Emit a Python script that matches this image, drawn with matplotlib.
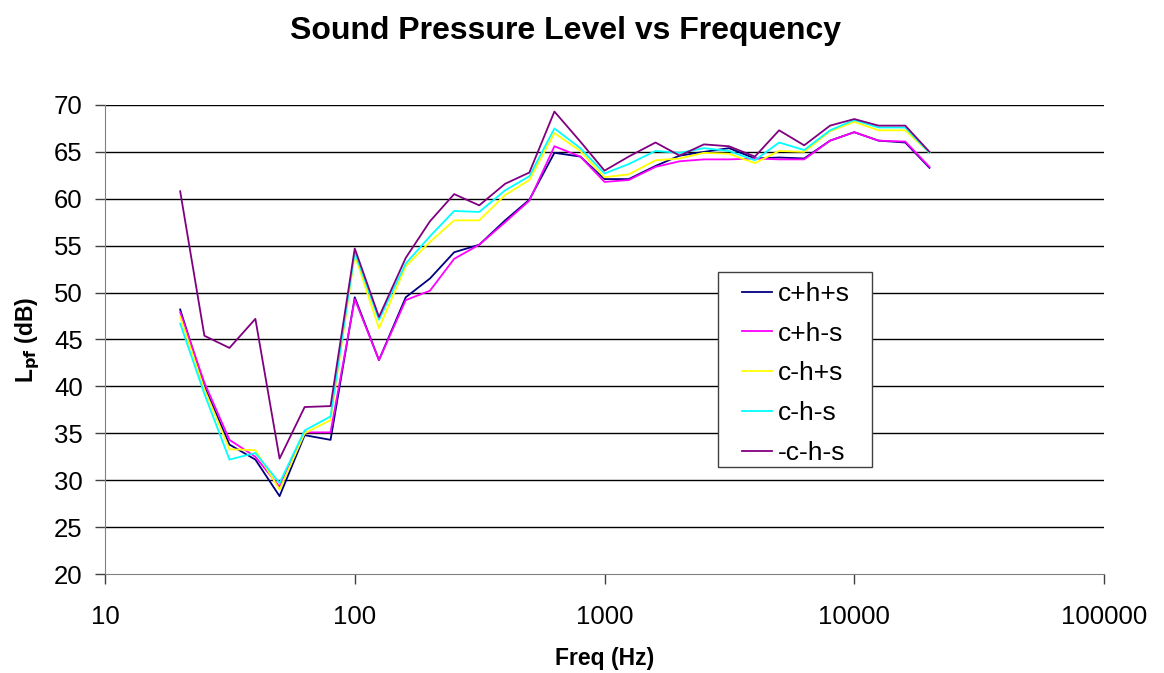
import matplotlib
matplotlib.use('Agg')
import matplotlib.pyplot as plt
from matplotlib.patches import Rectangle
from matplotlib.ticker import FixedLocator, FixedFormatter, NullLocator

plt.rcParams['font.family'] = ['Liberation Sans', 'DejaVu Sans']

# bandas de terço de oitava (Hz)
freq = [20, 25, 31.5, 40, 50, 63, 80, 100, 125, 160, 200, 250, 315, 400, 500,
        630, 800, 1000, 1250, 1600, 2000, 2500, 3150, 4000, 5000, 6300, 8000,
        10000, 12500, 16000, 20000]

c_mais_h_mais_s = [48.2, 40.0, 33.8, 32.2, 28.3, 34.8, 34.3, 49.5, 42.8, 49.5, 51.5,
                   54.3, 55.1, 57.7, 59.9, 64.9, 64.5, 62.1, 62.1, 63.5, 64.6, 65.0,
                   65.4, 64.3, 64.4, 64.3, 66.2, 67.1, 66.2, 66.0, 63.3]
c_mais_h_menos_s = [47.9, 40.4, 34.3, 32.5, 29.3, 35.1, 35.1, 49.3, 42.8, 49.2, 50.2,
                    53.6, 55.1, 57.5, 59.8, 65.6, 64.5, 61.8, 62.0, 63.4, 64.0, 64.2,
                    64.2, 64.3, 64.2, 64.2, 66.2, 67.1, 66.2, 66.1, 63.4]
c_menos_h_mais_s = [47.4, 39.7, 33.3, 33.2, 29.0, 35.0, 36.4, 54.0, 46.2, 52.8, 55.4,
                    57.7, 57.7, 60.4, 62.0, 67.0, 65.1, 62.3, 62.6, 64.1, 64.3, 64.9,
                    64.8, 63.8, 65.1, 65.0, 67.2, 68.2, 67.3, 67.3, 64.9]
c_menos_h_menos_s = [46.7, 39.2, 32.2, 32.9, 29.7, 35.3, 36.8, 54.3, 47.1, 53.1, 56.0,
                     58.7, 58.6, 60.9, 62.4, 67.5, 65.4, 62.7, 63.7, 65.1, 64.9, 65.4,
                     65.1, 64.1, 66.0, 65.2, 67.3, 68.4, 67.6, 67.6, 64.9]
menos_c_h_s = [60.8, 45.4, 44.1, 47.2, 32.3, 37.8, 37.9, 54.7, 47.4, 53.7, 57.6,
               60.5, 59.3, 61.6, 62.8, 69.3, 66.1, 63.0, 64.5, 66.0, 64.6, 65.8,
               65.6, 64.5, 67.3, 65.7, 67.8, 68.5, 67.8, 67.8, 65.0]

series = [
    ('c+h+s', c_mais_h_mais_s, '#000080'),
    ('c+h-s', c_mais_h_menos_s, '#FF00FF'),
    ('c-h+s', c_menos_h_mais_s, '#FFFF00'),
    ('c-h-s', c_menos_h_menos_s, '#00FFFF'),
    ('-c-h-s', menos_c_h_s, '#800080'),
]

x_ticks = [10, 100, 1000, 10000, 100000]
x_labels = ['10', '100', '1000', '10000', '100000']
y_ticks = list(range(20, 75, 5))

fig = plt.figure(figsize=(11.64, 6.73), dpi=100)
ax = fig.add_axes([0.0902, 0.1471, 0.8583, 0.6969])

for nome, valores, cor in series:
    ax.plot(freq, valores, color=cor, lw=1.3, label=nome)

ax.set_xscale('log')
ax.set_xlim(10, 100000)
ax.set_ylim(20, 70)
ax.xaxis.set_major_locator(FixedLocator(x_ticks))
ax.xaxis.set_major_formatter(FixedFormatter(x_labels))
ax.xaxis.set_minor_locator(NullLocator())
ax.set_yticks(y_ticks)

# grade horizontal apenas
for y in y_ticks[1:]:
    ax.axhline(y, color='black', lw=1, zorder=0)

for lado in ['top', 'right']:
    ax.spines[lado].set_visible(False)
ax.spines['left'].set_color('#808080')
ax.spines['bottom'].set_color('#808080')
ax.tick_params(axis='both', direction='out', length=7, width=1, color='#404040',
               labelsize=18.5)
ax.tick_params(axis='x', pad=15)
ax.tick_params(axis='y', pad=9)

ax.set_xlabel('Freq (Hz)', fontsize=16.5, fontweight='bold', labelpad=13)
ax.set_ylabel(r'L$_{\mathbf{pf}}$ (dB)', fontsize=16.5, fontweight='bold', labelpad=9)
fig.suptitle('Sound Pressure Level vs Frequency', fontsize=23, fontweight='bold',
             x=0.486, y=0.976)

# legenda sem moldura própria; a moldura é um retângulo mais largo atrás dela
leg = ax.legend(loc='upper left', bbox_to_anchor=(0.6304, 0.6376), borderaxespad=0,
                fontsize=19, frameon=False, handlelength=1.14,
                labelspacing=0.6, borderpad=0.26, handletextpad=0.23)
leg.set_zorder(6)
moldura = Rectangle((0.6136, 0.2288), 0.1542, 0.4152, transform=ax.transAxes,
                    facecolor='white', edgecolor='#404040', lw=1, zorder=5,
                    clip_on=False)
ax.add_patch(moldura)

fig.savefig('out.png', dpi=100)
